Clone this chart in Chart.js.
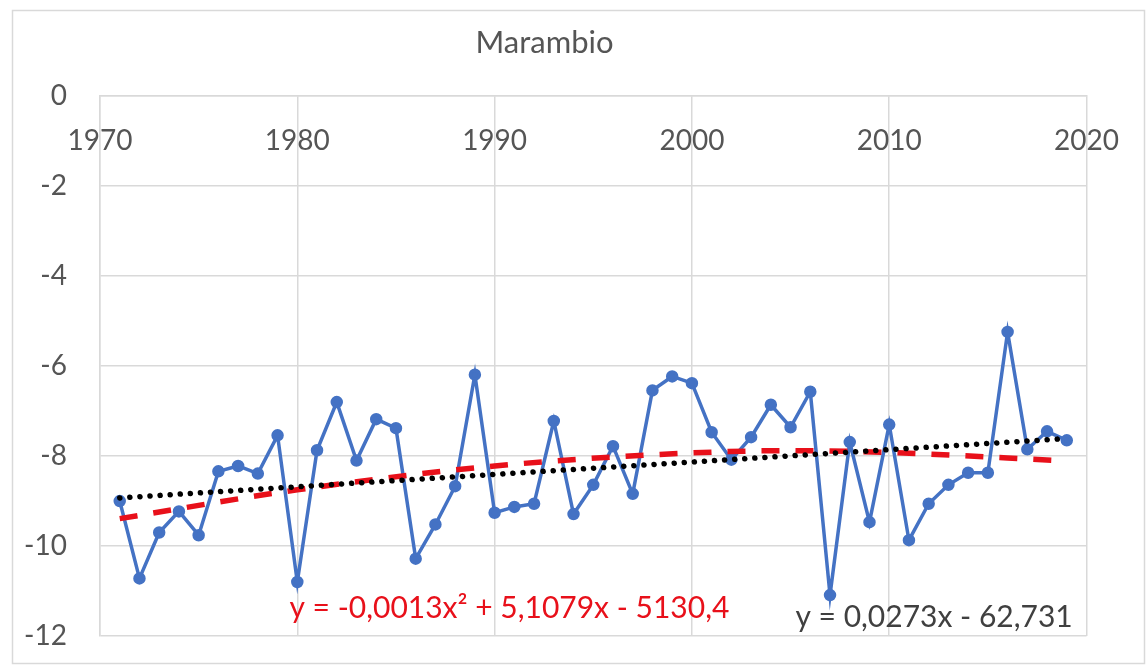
<!DOCTYPE html>
<html>
<head>
<meta charset="utf-8">
<title>Marambio</title>
<script src="https://cdn.jsdelivr.net/npm/chart.js@4"></script>
<style>
  html, body { margin: 0; padding: 0; background: #fff; }
  #wrap { position: relative; width: 1147px; height: 666px; }
</style>
</head>
<body>
<div id="wrap"><canvas id="maramChart"></canvas></div>
<script>
'use strict';

// ─── Data ───
const years = [
  1971, 1972, 1973, 1974, 1975, 1976, 1977, 1978, 1979, 1980,
  1981, 1982, 1983, 1984, 1985, 1986, 1987, 1988, 1989, 1990,
  1991, 1992, 1993, 1994, 1995, 1996, 1997, 1998, 1999, 2000,
  2001, 2002, 2003, 2004, 2005, 2006, 2007, 2008, 2009, 2010,
  2011, 2012, 2013, 2014, 2015, 2016, 2017, 2018, 2019
];
const tempValues = [
  -9.00, -10.72, -9.70, -9.23, -9.76, -8.34, -8.22, -8.39, -7.54, -10.80,
  -7.87, -6.80, -8.10, -7.18, -7.38, -10.28, -9.52, -8.67, -6.19, -9.26,
  -9.13, -9.06, -7.22, -9.29, -8.64, -7.78, -8.84, -6.54, -6.23, -6.38,
  -7.47, -8.08, -7.58, -6.86, -7.36, -6.57, -11.09, -7.69, -9.47, -7.30,
  -9.87, -9.06, -8.64, -8.37, -8.37, -5.24, -7.85, -7.45, -7.65
];

// linear trendline, endpoints
const linYears = [1971, 2019];
const linValues = [-8.93, -7.61];

// polynomial (order 2) trendline, a few knots
const polyYears = [1971, 1980, 1990, 2000, 2005, 2010, 2019];
const polyValues = [-9.39, -8.75, -8.22, -7.93, -7.88, -7.92, -8.11];

const xTicks = [1970, 1980, 1990, 2000, 2010, 2020];
const yTicks = [0, -2, -4, -6, -8, -10, -12];

const polyLabel = 'y = -0,0013x² + 5,1079x - 5130,4';
const linLabel = 'y = 0,0273x - 62,731';

const FONT = "Lato, 'Open Sans', sans-serif";
const TEXT = '#555555';
const GRID = '#d9d9d9';
const BLUE = '#4472c4';
const RED = '#e8101a';

const toXY = (xs, ys) => xs.map((x, i) => ({ x, y: ys[i] }));

// outer chart border + trendline equations
const decorations = {
  id: 'decorations',
  beforeDraw(chart) {
    const ctx = chart.ctx;
    ctx.save();
    ctx.fillStyle = '#fff';
    ctx.fillRect(0, 0, chart.width, chart.height);
    ctx.strokeStyle = GRID;
    ctx.lineWidth = 1.5;
    ctx.strokeRect(12.5, 10.5, 1132, 653);
    ctx.restore();
  },
  afterDatasetsDraw(chart) {
    const { ctx, scales: { x, y } } = chart;
    ctx.save();
    ctx.font = `30px ${FONT}`;
    ctx.textBaseline = 'middle';
    ctx.textAlign = 'left';
    ctx.fillStyle = RED;
    ctx.fillText(polyLabel, x.getPixelForValue(1979.6), y.getPixelForValue(-11.38));
    ctx.textAlign = 'right';
    ctx.fillStyle = '#404040';
    ctx.fillText(linLabel, x.getPixelForValue(2019.3), y.getPixelForValue(-11.58));
    ctx.restore();
  }
};

const ctx = document.getElementById('maramChart').getContext('2d');
new Chart(ctx, {
  type: 'line',
  data: {
    datasets: [
      {
        label: 'Linear',
        data: toXY(linYears, linValues),
        borderColor: '#000',
        borderWidth: 5.5,
        borderDash: [0.1, 10],
        borderCapStyle: 'round',
        pointRadius: 0,
        fill: false,
        order: 0,
      },
      {
        label: 'Poly. (2)',
        data: toXY(polyYears, polyValues),
        borderColor: RED,
        borderWidth: 5.5,
        borderDash: [18, 16],
        cubicInterpolationMode: 'monotone',
        pointRadius: 0,
        fill: false,
        order: 1,
      },
      {
        label: 'Marambio',
        data: toXY(years, tempValues),
        borderColor: BLUE,
        backgroundColor: BLUE,
        borderWidth: 3.5,
        pointRadius: 4.5,
        pointBackgroundColor: BLUE,
        pointBorderColor: BLUE,
        tension: 0,
        fill: false,
        order: 2,
      },
    ],
  },
  options: {
    responsive: true,
    maintainAspectRatio: false,
    animation: false,
    layout: { padding: { left: 0, right: 58, top: 0, bottom: 30 } },
    plugins: {
      legend: { display: false },
      tooltip: { enabled: false },
      title: {
        display: true,
        text: 'Marambio',
        color: TEXT,
        font: { family: FONT, size: 31, weight: 'normal', lineHeight: 1.2 },
        padding: { top: 24, bottom: 35 },
      },
    },
    scales: {
      x: {
        type: 'linear',
        position: { y: 0 },
        min: 1970,
        max: 2020,
        afterBuildTicks: s => { s.ticks = xTicks.map(v => ({ value: v })); },
        grid: { color: GRID, lineWidth: 1.5, drawTicks: false },
        border: { color: GRID, width: 1.5 },
        ticks: {
          color: TEXT,
          padding: 28,
          maxRotation: 0,
          font: { family: FONT, size: 28 },
          callback: v => String(v),
        },
      },
      y: {
        type: 'linear',
        min: -12,
        max: 0,
        afterBuildTicks: s => { s.ticks = yTicks.map(v => ({ value: v })); },
        // fixed width; drop the label overflow padding so the plot reaches the bottom
        afterFit: s => { s.width = 100; s.paddingTop = 0; s.paddingBottom = 0; },
        grid: { color: GRID, lineWidth: 1.5, drawTicks: false },
        border: { color: GRID, width: 1.5 },
        ticks: {
          color: TEXT,
          padding: 33,
          font: { family: FONT, size: 28 },
          callback: v => String(v),
        },
      },
    },
  },
  plugins: [decorations],
});
</script>
</body>
</html>
